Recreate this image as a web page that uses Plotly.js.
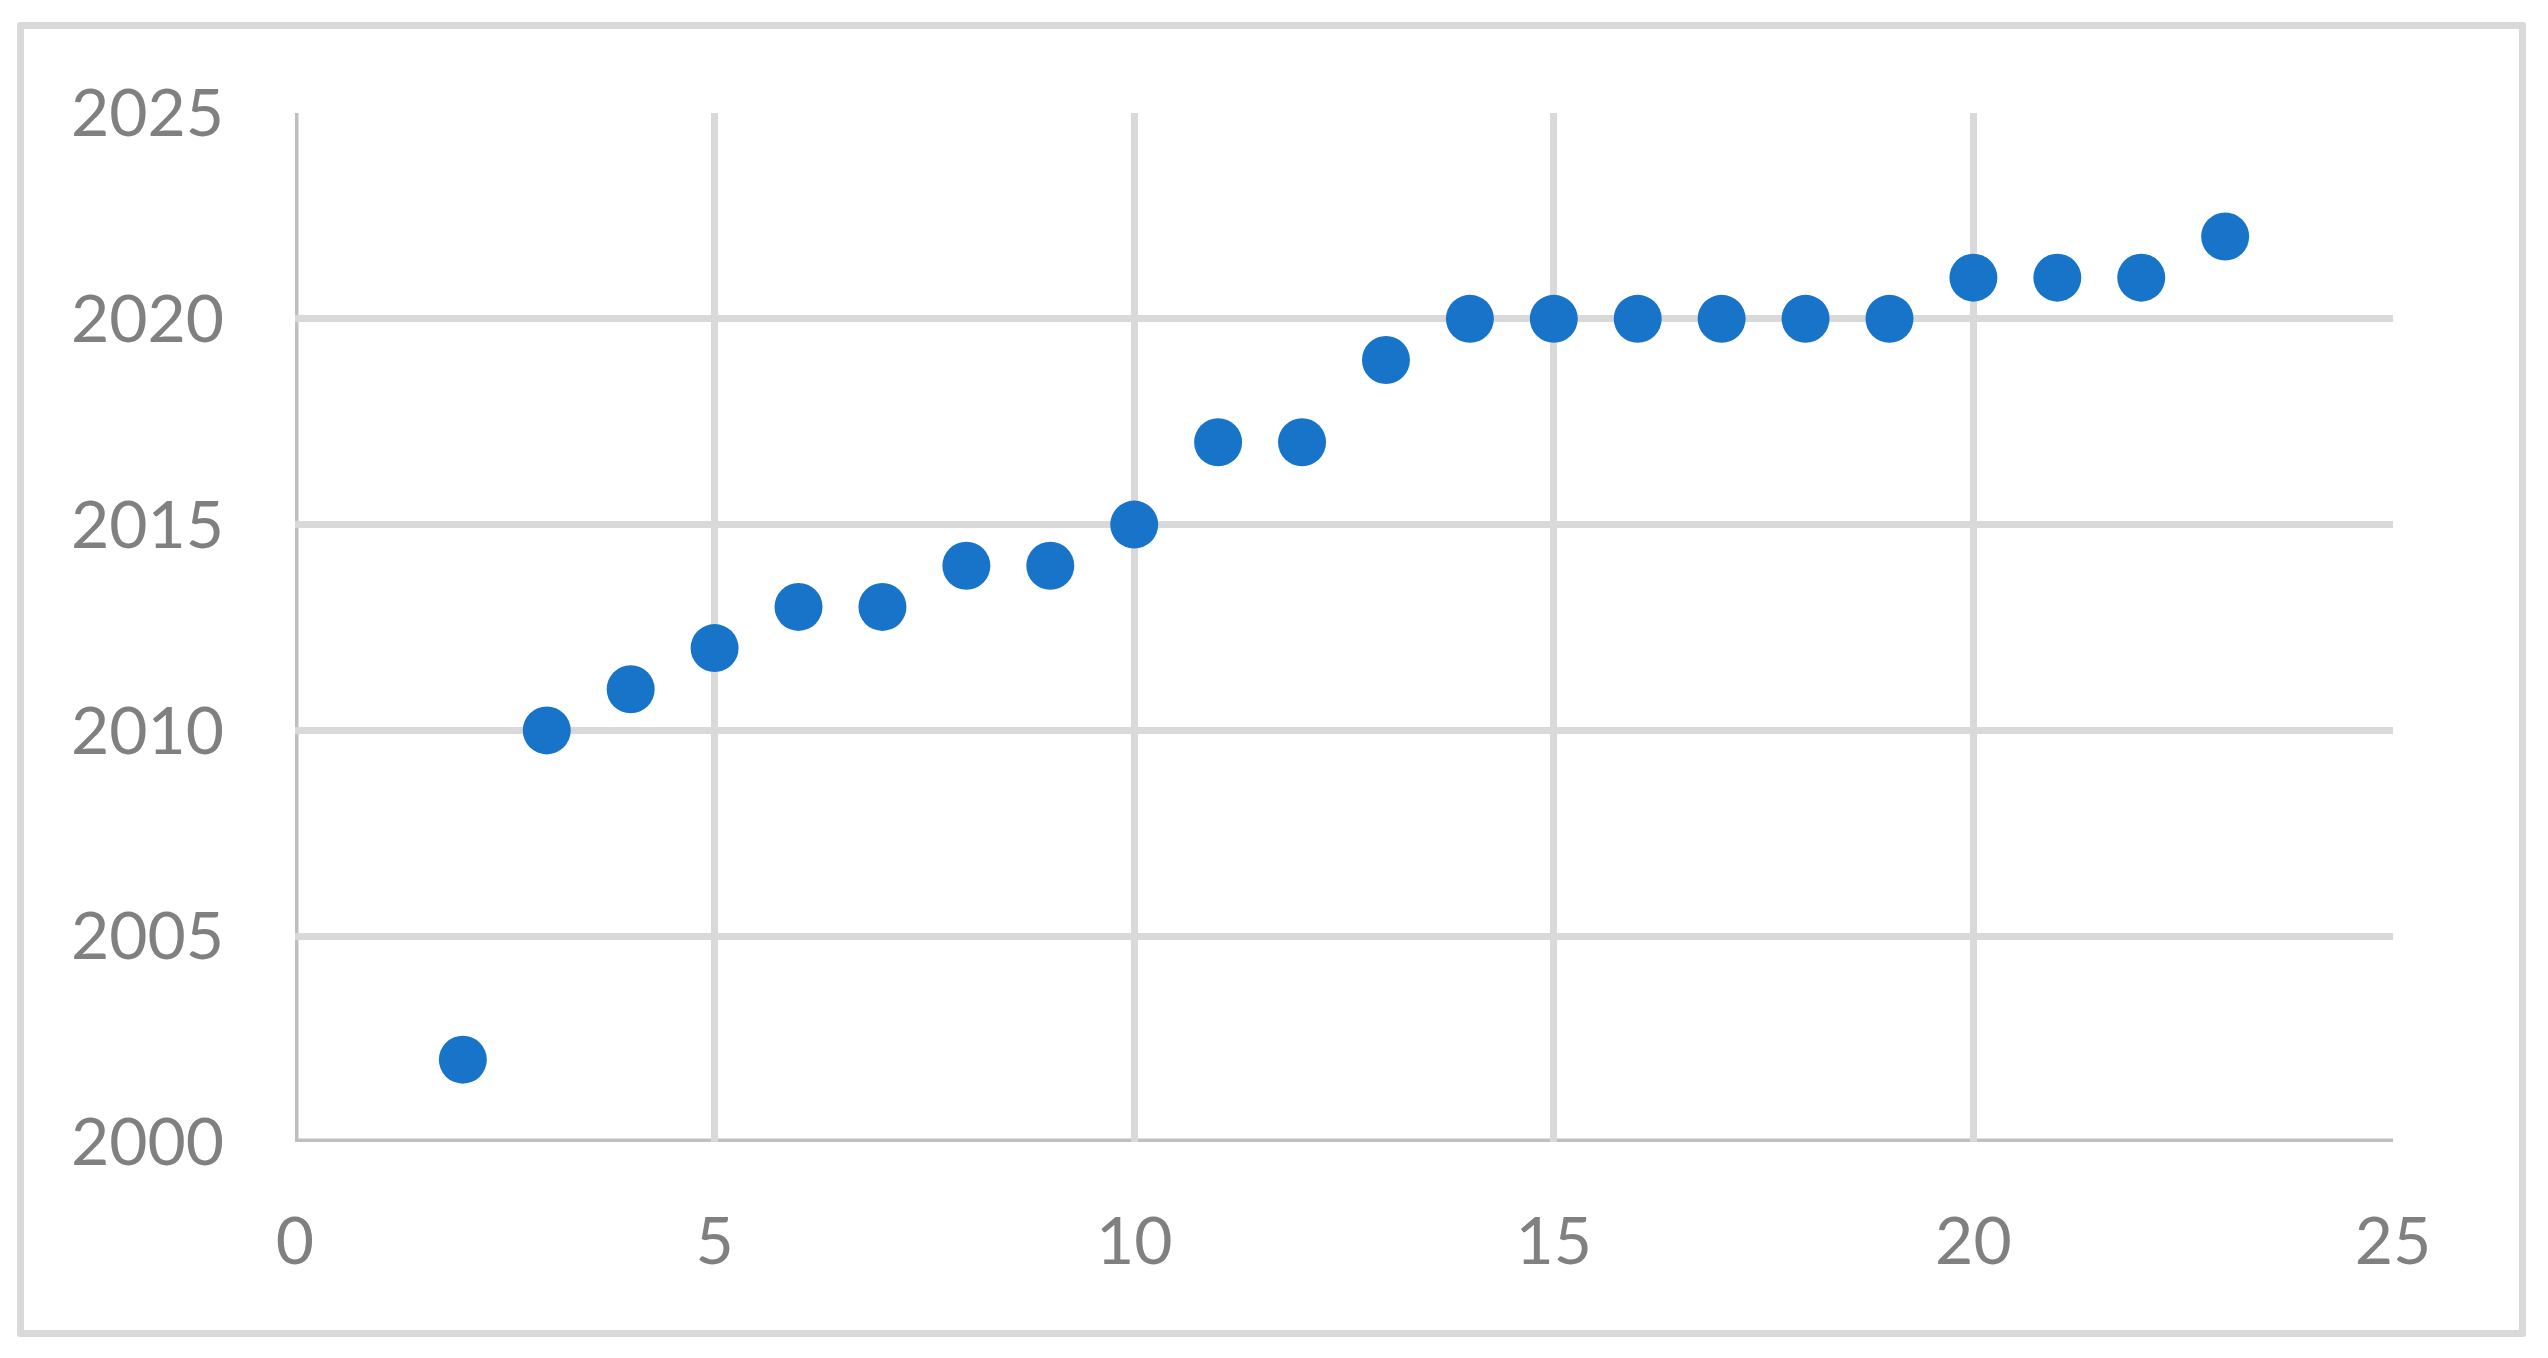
<!DOCTYPE html>
<html>
<head>
<meta charset="utf-8">
<script src="https://cdn.plot.ly/plotly-3.0.1.min.js"></script>
<style>
  html, body { margin: 0; padding: 0; background: #fff; }
  #chart { width: 2548px; height: 1358px; position: absolute; left: 0; top: 0; }
  #frame { position: absolute; left: 17px; top: 22px; width: 2509px; height: 1315px;
           box-sizing: border-box; border: 7px solid #d9d9d9; border-radius: 3px; pointer-events: none; }
</style>
</head>
<body>
<div id="chart"></div>
<div id="frame"></div>
<script>
const xValues = [2, 3, 4, 5, 6, 7, 8, 9, 10, 11, 12, 13, 14, 15, 16, 17, 18, 19, 20, 21, 22, 23];
const yValues = [2002, 2010, 2011, 2012, 2013, 2013, 2014, 2014, 2015, 2017, 2017, 2019, 2020, 2020, 2020, 2020, 2020, 2020, 2021, 2021, 2021, 2022];
const xTicks = [0, 5, 10, 15, 20, 25];
const yTicks = [2000, 2005, 2010, 2015, 2020, 2025];
const xRange = [0, 25];
const yRange = [2000, 2025];

const trace = {
  x: xValues,
  y: yValues,
  type: 'scatter',
  mode: 'markers',
  marker: { color: '#1874c9', size: 48 },
  hoverinfo: 'x+y'
};

const tickFont = { family: 'Lato, "Open Sans", sans-serif', size: 66, color: '#808080' };
const axisLine = { color: '#bfbfbf', width: 7 };

const layout = {
  width: 2548,
  height: 1358,
  margin: { l: 295, r: 155, t: 113, b: 216, pad: 0 },
  paper_bgcolor: '#ffffff',
  plot_bgcolor: '#ffffff',
  showlegend: false,
  xaxis: {
    range: xRange,
    tickvals: xTicks,
    ticktext: xTicks.map(String),
    showgrid: true,
    gridcolor: '#d9d9d9',
    gridwidth: 7,
    zeroline: false,
    showline: false,
    ticks: '',
    tickfont: tickFont,
    ticklabelstandoff: 55
  },
  yaxis: {
    range: yRange,
    tickvals: yTicks,
    ticktext: yTicks.map(String),
    showgrid: true,
    gridcolor: '#d9d9d9',
    gridwidth: 7,
    zeroline: false,
    showline: false,
    ticks: '',
    tickfont: tickFont,
    ticklabelstandoff: 70
  },
  shapes: [
    { type: 'line', xref: 'x', yref: 'y', x0: xRange[0], x1: xRange[0], y0: yRange[0], y1: yRange[1], line: axisLine, layer: 'below' },
    { type: 'line', xref: 'x', yref: 'y', x0: xRange[0], x1: xRange[1], y0: yRange[0], y1: yRange[0], line: axisLine, layer: 'below' }
  ]
};

Plotly.newPlot('chart', [trace], layout, { displayModeBar: false, staticPlot: true });
</script>
</body>
</html>
